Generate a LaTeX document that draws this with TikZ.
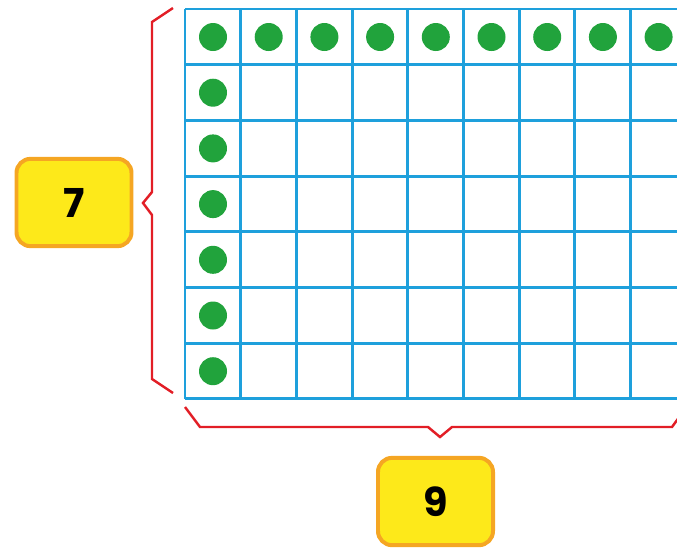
\documentclass[tikz,border=0pt]{standalone}
\usepackage{fontspec}
\setmainfont{Poppins}
\definecolor{gridblue}{RGB}{30,160,220}
\definecolor{bracered}{RGB}{226,30,38}
\definecolor{dotgreen}{RGB}{33,163,60}
\definecolor{boxyellow}{RGB}{253,233,26}
\definecolor{boxorange}{RGB}{245,166,35}
\tikzset{
	numbox/.style={draw=boxorange, line width=3.4pt, fill=boxyellow, rounded corners=12pt,
		minimum width=3.45cm, minimum height=2.62cm, inner sep=0pt,
		font=\fontsize{34}{40}\selectfont\bfseries},
	gridline/.style={draw=gridblue, line width=2.5pt},
	bracket/.style={draw=bracered, line width=2.1pt},
	dot/.style={circle, fill=dotgreen, minimum size=0.84cm, inner sep=0pt}
}
\begin{document}
\begin{tikzpicture}[x=0.03cm, y=-0.03cm]
	\useasboundingbox (0,0) rectangle (677,547);
	\clip (0,0) rectangle (677,547);
	% grid
	\foreach \i in {0,...,7}
		\draw[gridline] (185,9+55.7*\i) -- (690,9+55.7*\i);
	\foreach \j in {0,...,9}
		\draw[gridline] (185+55.7*\j,9) -- (185+55.7*\j,399);
	% dots
	\foreach \j in {0,...,8}
		\node[dot] (top\j) at (213+55.7*\j,37) {};
	\foreach \i in {1,...,6}
		\node[dot] (side\i) at (213,37+55.7*\i) {};
	% braces
	\draw[bracket] (173,8) -- (152,22) -- (152,192) -- (143,203) -- (152,215) -- (152,379) -- (173,393);
	\draw[bracket] (185,407) -- (200,427) -- (428,427) -- (440,437) -- (452,427) -- (672,427) -- (680,416);
	% labels
	\node[numbox] (rows) at (74,202.5) {7};
	\node[numbox] (cols) at (435.5,501.5) {9};
\end{tikzpicture}
\end{document}
